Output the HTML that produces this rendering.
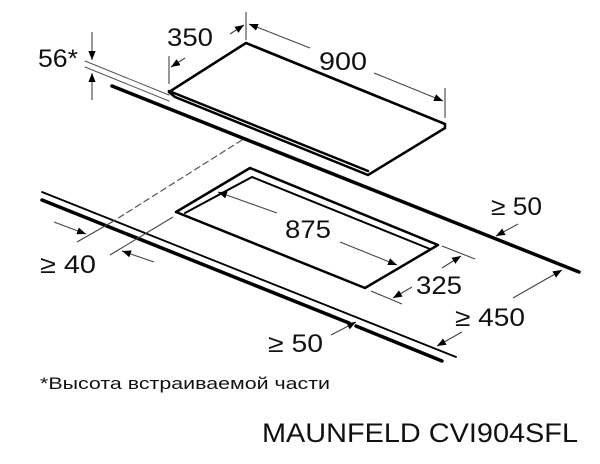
<!DOCTYPE html>
<html><head><meta charset="utf-8"><style>
html,body{margin:0;padding:0;background:#fff;}
svg{display:block;}
text{font-family:"Liberation Sans",Arial,sans-serif;fill:#111;}
</style></head><body>
<svg width="600" height="464" viewBox="0 0 600 464" xmlns="http://www.w3.org/2000/svg">
<defs>
<marker id="a" viewBox="0 0 10 10" refX="10" refY="5" markerWidth="9" markerHeight="9" markerUnits="userSpaceOnUse" orient="auto"><path d="M0,1 L10,5 L0,9 Z" fill="#000"/></marker>
</defs>
<g stroke="#000" fill="none" stroke-linecap="round">
<line x1="112" y1="86" x2="579" y2="272" stroke-width="3.5"/>
<line x1="42" y1="192" x2="456" y2="357" stroke-width="1.8"/>
<line x1="42" y1="200" x2="349" y2="323" stroke-width="3.5"/>
<line x1="356" y1="326" x2="442" y2="361" stroke-width="3.5"/>
<path d="M246,43 L445,124 L445,128 L368,175 L175,97 L169,92 Z" fill="#fff" stroke-width="2.5" stroke-linejoin="round"/>
<path d="M169,92 L246,43 L445,124" stroke-width="2.5"/>
<path d="M175,97 L368,175 L445,128" stroke-width="2"/>
<line x1="169" y1="91" x2="368" y2="171" stroke-width="2.5"/>
<line x1="85" y1="61" x2="169" y2="95" stroke-width="1" stroke="#555"/>
<line x1="85" y1="67" x2="169" y2="101" stroke-width="1" stroke="#555"/>
<line x1="242" y1="140" x2="112" y2="222" stroke-width="1.2" stroke="#555" stroke-dasharray="6,4"/>
<path d="M250,168 L438,245 L365,288 L176,212 Z" stroke-width="2.5" stroke-linejoin="round"/>
<path d="M185,213 L252,177 L430,249" stroke-width="2"/>
</g>
<g stroke="#444" stroke-width="1.1" fill="none">
<line x1="92" y1="32" x2="92" y2="60" marker-end="url(#a)"/>
<line x1="92" y1="100" x2="92" y2="73" marker-end="url(#a)"/>
<line x1="169" y1="56" x2="169" y2="84"/>
<line x1="246" y1="12" x2="246" y2="40"/>
<line x1="185" y1="58" x2="171" y2="67" marker-end="url(#a)"/>
<line x1="230" y1="34" x2="244" y2="25" marker-end="url(#a)"/>
<line x1="310" y1="48" x2="249" y2="24" marker-end="url(#a)"/>
<line x1="374" y1="73" x2="443" y2="101" marker-end="url(#a)"/>
<line x1="445" y1="88" x2="445" y2="118"/>
<line x1="77" y1="242" x2="112" y2="222"/>
<line x1="110" y1="255" x2="173" y2="217"/>
<line x1="54" y1="222" x2="86" y2="234" marker-end="url(#a)"/>
<line x1="154" y1="262" x2="122" y2="251" marker-end="url(#a)"/>
<line x1="277" y1="213" x2="218" y2="192" marker-end="url(#a)"/>
<line x1="340" y1="242" x2="397" y2="265" marker-end="url(#a)"/>
<line x1="442" y1="246" x2="475" y2="259"/>
<line x1="371" y1="291" x2="402" y2="304"/>
<line x1="442" y1="268" x2="461" y2="256" marker-end="url(#a)"/>
<line x1="412" y1="287" x2="393" y2="298" marker-end="url(#a)"/>
<line x1="518" y1="224" x2="496" y2="236" marker-end="url(#a)"/>
<line x1="513" y1="298" x2="562" y2="270" marker-end="url(#a)"/>
<line x1="462" y1="332" x2="437" y2="346" marker-end="url(#a)"/>
<line x1="331" y1="335" x2="356" y2="322" marker-end="url(#a)"/>
</g>
<g font-size="25" lengthAdjust="spacingAndGlyphs">
<text x="38" y="67" textLength="40" lengthAdjust="spacingAndGlyphs">56*</text>
<text x="167" y="46" textLength="46" lengthAdjust="spacingAndGlyphs">350</text>
<text x="319" y="70" textLength="48" lengthAdjust="spacingAndGlyphs">900</text>
<text x="285" y="238" textLength="46" lengthAdjust="spacingAndGlyphs">875</text>
<text x="416" y="294" textLength="46" lengthAdjust="spacingAndGlyphs">325</text>
<text x="491" y="215" textLength="51" lengthAdjust="spacingAndGlyphs">≥ 50</text>
<text x="40" y="273" textLength="56" lengthAdjust="spacingAndGlyphs">≥ 40</text>
<text x="455" y="326" textLength="70" lengthAdjust="spacingAndGlyphs">≥ 450</text>
<text x="268" y="352" textLength="55" lengthAdjust="spacingAndGlyphs">≥ 50</text>
</g>
<text x="40" y="389" font-size="17" textLength="290" lengthAdjust="spacingAndGlyphs">*Высота встраиваемой части</text>
<text x="262" y="442" font-size="27" textLength="316" lengthAdjust="spacingAndGlyphs">MAUNFELD CVI904SFL</text>
</svg>
</body></html>
